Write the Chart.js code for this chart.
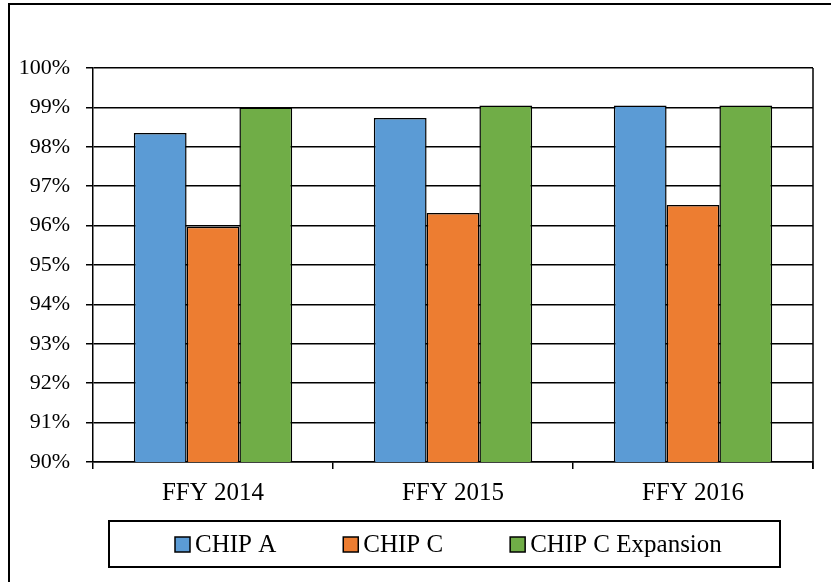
<!DOCTYPE html>
<html>
<head>
<meta charset="utf-8">
<script src="https://cdn.jsdelivr.net/npm/chart.js@4"></script>
<style>
  html, body { margin: 0; padding: 0; background: #fff; }
  #wrap { width: 831px; height: 582px; }
</style>
</head>
<body>
<div id="wrap"><canvas id="chart1"></canvas></div>
<script>
var CATEGORIES = ['FFY 2014', 'FFY 2015', 'FFY 2016'];
var CHIP_A = [98.35, 98.73, 99.05];
var CHIP_C = [95.97, 96.32, 96.52];
var CHIP_C_EXP = [99.0, 99.05, 99.05];
var Y_MIN = 90, Y_MAX = 100, Y_STEP = 1;

var COLORS = ['#5B9BD5', '#ED7D31', '#70AD47'];
var FONT_FAMILY = '"Liberation Serif", "Times New Roman", serif';
var Y_FONT = { family: FONT_FAMILY, size: 22 };
var X_FONT = { family: FONT_FAMILY, size: 25 };

// outer frame, right plot edge and a boxed legend under the x axis
var framePlugin = {
	id: 'frame',
	afterDraw: function(chart) {
		var c = chart.ctx, a = chart.chartArea;
		c.save();
		c.strokeStyle = '#000';
		c.lineWidth = 2;
		c.beginPath();
		c.moveTo(9, 582); c.lineTo(9, 4); c.lineTo(831, 4);
		c.stroke();
		c.lineWidth = 1.5;
		c.beginPath();
		c.moveTo(a.right, a.top); c.lineTo(a.right, a.bottom + 7);
		c.stroke();

		// legend
		var top = 521, h = 46, cy = top + h / 2;
		c.lineWidth = 2;
		c.strokeRect(109, top, 671, h);
		c.font = X_FONT.size + 'px ' + FONT_FAMILY;
		c.textBaseline = 'middle';
		var x = 175;
		chart.data.datasets.forEach(function(d) {
			c.fillStyle = d.backgroundColor;
			c.fillRect(x, cy - 7, 15, 15);
			c.lineWidth = 1.5;
			c.strokeRect(x, cy - 7, 15, 15);
			c.fillStyle = '#000';
			c.fillText(d.label, x + 20, cy + 1);
			x += 20 + c.measureText(d.label).width + 67;
		});
		c.restore();
	}
};

new Chart(document.getElementById('chart1').getContext('2d'), {
	type: 'bar',
	data: {
		labels: CATEGORIES,
		datasets: [
			{ label: 'CHIP A', data: CHIP_A, backgroundColor: COLORS[0] },
			{ label: 'CHIP C', data: CHIP_C, backgroundColor: COLORS[1] },
			{ label: 'CHIP C Expansion', data: CHIP_C_EXP, backgroundColor: COLORS[2] }
		]
	},
	options: {
		responsive: true,
		maintainAspectRatio: false,
		animation: false,
		layout: { padding: { left: 10, right: 18, top: 68, bottom: 0 } },
		datasets: {
			bar: {
				categoryPercentage: 0.66,
				barPercentage: 1.0,
				borderColor: '#000',
				borderWidth: 1.5,
				borderSkipped: 'bottom'
			}
		},
		scales: {
			x: {
				afterFit: function(s) { s.height = 120; },
				grid: { drawOnChartArea: false, drawTicks: true, tickLength: 7, color: '#000', lineWidth: 1.5 },
				border: { color: '#000', width: 1.5 },
				ticks: { color: '#000', font: X_FONT, padding: 9 }
			},
			y: {
				min: Y_MIN,
				max: Y_MAX,
				afterFit: function(s) { s.width = 83; },
				grid: { color: '#000', lineWidth: 1.5, tickLength: 7 },
				border: { color: '#000', width: 1.5 },
				ticks: {
					stepSize: Y_STEP,
					color: '#000',
					font: Y_FONT,
					padding: 16,
					callback: function(v) { return v + '%'; }
				}
			}
		},
		plugins: {
			legend: { display: false },
			tooltip: { enabled: false }
		}
	},
	plugins: [framePlugin]
});
</script>
</body>
</html>
